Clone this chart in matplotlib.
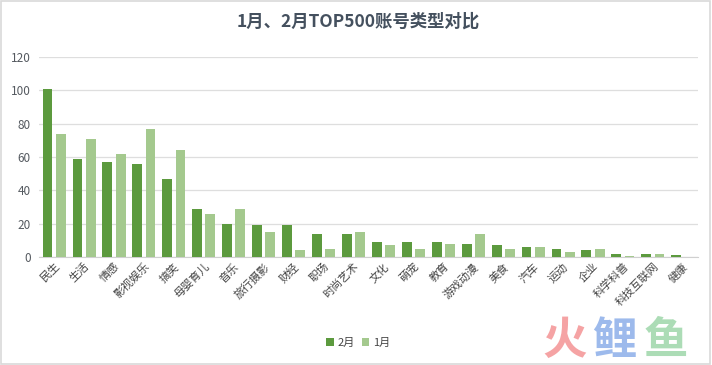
import matplotlib
matplotlib.use("Agg")
import matplotlib.pyplot as plt
import numpy as np
from matplotlib.patches import Rectangle

plt.rcParams['font.family'] = ['Noto Sans CJK SC', 'DejaVu Sans']

categories = ["民生", "生活", "情感", "影视娱乐", "搞笑", "母婴育儿", "音乐", "旅行摄影", "财经",
              "职场", "时尚艺术", "文化", "萌宠", "教育", "游戏动漫", "美食", "汽车", "运动",
              "企业", "科学科普", "科技互联网", "健康"]
feb = [101, 59, 57, 56, 47, 29, 20, 19, 19, 14, 14, 9, 9, 9, 8, 7, 6, 5, 4, 2, 2, 1]
jan = [74, 71, 62, 77, 64, 26, 29, 15, 4, 5, 15, 7, 5, 8, 14, 5, 6, 3, 5, 0.5, 2, 0]

c_feb = "#5c9a3e"
c_jan = "#a4c98e"

fig = plt.figure(figsize=(7.12, 3.65), dpi=100)
ax = fig.add_axes([0.055, 0.296, 0.925, 0.548])

x = np.arange(len(categories))
w = 0.33
ax.bar(x - 0.22, feb, width=w, color=c_feb, label="2月", zorder=3)
ax.bar(x + 0.22, jan, width=w, color=c_jan, label="1月", zorder=3)

ax.set_ylim(0, 120)
ax.set_xlim(-0.5, len(categories) - 0.5)
ax.set_yticks(range(0, 121, 20))
ax.yaxis.grid(True, color="#dedede", linewidth=0.9, zorder=0)
ax.set_axisbelow(True)
for s in ["left", "right", "top"]:
    ax.spines[s].set_visible(False)
ax.spines["bottom"].set_color("#d0d0d0")
ax.tick_params(axis="y", length=0, labelsize=8.5, labelcolor="#555a60", pad=6)
ax.tick_params(axis="x", length=0, labelsize=8, labelcolor="#444444", pad=3)
ax.set_xticks(x)
ax.set_xticklabels(categories, rotation=45, ha="right", rotation_mode="anchor")

fig.text(0.503, 0.94, "1月、2月TOP500账号类型对比", ha="center", va="center",
         fontsize=12.5, fontweight="bold", color="#44505e")

leg = fig.legend(loc="center", bbox_to_anchor=(0.503, 0.06), ncol=2, frameon=False,
                 fontsize=8, handlelength=0.7, handleheight=0.7, handletextpad=0.3,
                 columnspacing=0.6, labelcolor="#444444")

# watermark
fig.text(0.793, 0.065, "火", fontsize=32, color="#f4999a", ha="center", va="center", fontweight="bold", alpha=0.9)
fig.text(0.863, 0.065, "鲤", fontsize=32, color="#93b3ea", ha="center", va="center", fontweight="bold", alpha=0.9)
fig.text(0.935, 0.065, "鱼", fontsize=32, color="#a3d9ae", ha="center", va="center", fontweight="bold", alpha=0.9)

fig.patches.append(Rectangle((0.002, 0.003), 0.995, 0.994, transform=fig.transFigure,
                             fill=False, edgecolor="#d9d9d9", linewidth=1.2))

fig.savefig("out.png", dpi=100)
